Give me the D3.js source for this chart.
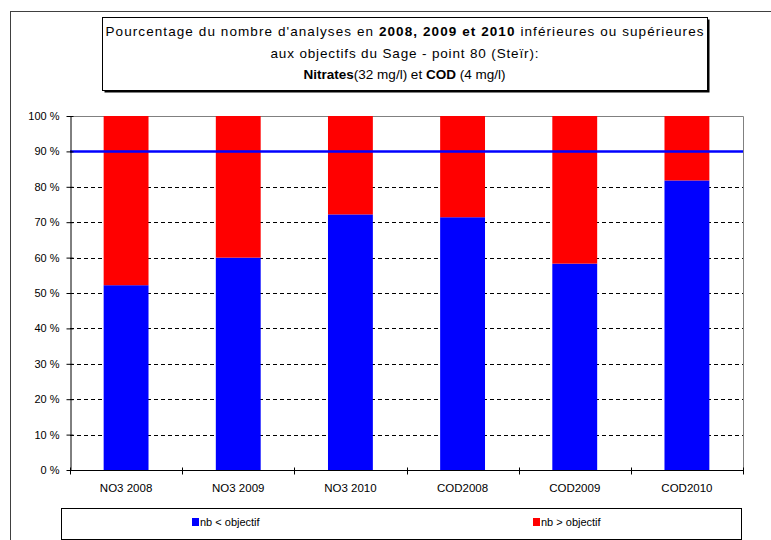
<!DOCTYPE html>
<html>
<head>
<meta charset="utf-8">
<script src="https://cdn.jsdelivr.net/npm/d3@7"></script>
<style>
  html, body { margin: 0; padding: 0; background: #fff; }
  svg { display: block; font-family: Arial, "Liberation Sans", sans-serif; }
</style>
</head>
<body>
<svg id="chart" width="771" height="540"></svg>
<script>
// Categories and shares (%) of analyses below / above the SAGE objective
const categories = ["NO3 2008", "NO3 2009", "NO3 2010", "COD2008", "COD2009", "COD2010"];
const belowObjective = [52.2, 60.0, 72.2, 71.4, 58.3, 81.8];
const aboveObjective = [47.8, 40.0, 27.8, 28.6, 41.7, 18.2];
const seriesNames = ["nb < objectif", "nb > objectif"];
const seriesColors = ["#0000ff", "#ff0000"];
const yTicks = [0, 10, 20, 30, 40, 50, 60, 70, 80, 90, 100];
const targetLevel = 90;

const svg = d3.select("#chart");

// outer chart frame
svg.append("rect")
  .attr("x", 10.5).attr("y", 11.5)
  .attr("width", 800).attr("height", 600)
  .attr("fill", "none").attr("stroke", "#404040").attr("stroke-width", 1);

// plot area
const plot = { left: 70, right: 743, top: 116, bottom: 470 };

const x = d3.scaleBand()
  .domain(categories)
  .range([plot.left, plot.right])
  .paddingInner(0.6)
  .paddingOuter(0.3);

const y = d3.scaleLinear().domain([0, 100]).range([plot.bottom, plot.top]);

// plot border (top and right)
svg.append("path")
  .attr("d", `M${plot.left},${plot.top + 0.5}H${plot.right + 0.5}V${plot.bottom}`)
  .attr("fill", "none").attr("stroke", "#808080").attr("stroke-width", 1);

// dashed gridlines
svg.append("g")
  .selectAll("line")
  .data(yTicks.filter(t => t > 0 && t < 100 && t !== targetLevel))
  .join("line")
  .attr("x1", plot.left).attr("x2", plot.right)
  .attr("y1", d => Math.round(y(d)) + 0.5).attr("y2", d => Math.round(y(d)) + 0.5)
  .attr("stroke", "#000").attr("stroke-width", 1)
  .attr("stroke-dasharray", "4,3");

// stacked bars
const rows = categories.map((c, i) => ({ cat: c, below: belowObjective[i], above: aboveObjective[i] }));
const stack = d3.stack().keys(["below", "above"])(rows);

svg.append("g")
  .selectAll("g")
  .data(stack)
  .join("g")
  .attr("fill", (d, i) => seriesColors[i])
  .selectAll("rect")
  .data(d => d)
  .join("rect")
  .attr("x", d => x(d.data.cat))
  .attr("width", x.bandwidth())
  .attr("y", d => y(d[1]))
  .attr("height", d => y(d[0]) - y(d[1]));

// target line at 90 %
svg.append("line")
  .attr("x1", plot.left).attr("x2", plot.right)
  .attr("y1", y(targetLevel)).attr("y2", y(targetLevel))
  .attr("stroke", "#0000ff").attr("stroke-width", 2.5);

// y axis
const yAxis = d3.axisLeft(y)
  .tickValues(yTicks)
  .tickFormat(d => d + " %")
  .tickSizeInner(4)
  .tickSizeOuter(0)
  .tickPadding(7);

const gy = svg.append("g")
  .attr("transform", `translate(${plot.left + 0.5},0)`)
  .call(yAxis);
gy.select(".domain").attr("stroke", "#000");
gy.selectAll(".tick line").attr("x1", -4).attr("x2", 3).attr("stroke", "#000");
gy.selectAll(".tick text")
  .attr("font-size", 11).attr("font-family", "Arial, 'Liberation Sans', sans-serif")
  .attr("fill", "#000");

// x axis with ticks at category boundaries
const gx = svg.append("g")
  .attr("transform", `translate(0,${plot.bottom + 0.5})`);
gx.append("line")
  .attr("x1", plot.left).attr("x2", plot.right + 1)
  .attr("stroke", "#000");
const step = (plot.right - plot.left) / categories.length;
gx.selectAll(".btick")
  .data(d3.range(categories.length + 1))
  .join("line")
  .attr("class", "btick")
  .attr("x1", i => Math.round(plot.left + i * step) + 0.5)
  .attr("x2", i => Math.round(plot.left + i * step) + 0.5)
  .attr("y1", -3).attr("y2", 4)
  .attr("stroke", "#000");
gx.selectAll(".lbl")
  .data(categories)
  .join("text")
  .attr("class", "lbl")
  .attr("x", d => x(d) + x.bandwidth() / 2)
  .attr("y", 21)
  .attr("text-anchor", "middle")
  .attr("font-size", 11.5)
  .attr("fill", "#000")
  .text(d => d);

// title box with shadow
const tb = { x: 102, y: 17, w: 605, h: 73 };
svg.append("rect")
  .attr("x", tb.x + 2.5).attr("y", tb.y + 2.5)
  .attr("width", tb.w).attr("height", tb.h)
  .attr("fill", "#000");
svg.append("rect")
  .attr("x", tb.x + 0.5).attr("y", tb.y + 0.5)
  .attr("width", tb.w).attr("height", tb.h)
  .attr("fill", "#fff").attr("stroke", "#000");

const titleLines = [
  [["Pourcentage du nombre d'analyses en ", false], ["2008, 2009 et 2010", true], [" inférieures ou supérieures", false]],
  [["aux objectifs du Sage - point 80 (Steïr):", false]],
  [["Nitrates", true], ["(32 mg/l) et ", false], ["COD", true], [" (4 mg/l)", false]]
];
const titleWidths = [598, 268, null];
const title = svg.append("g");
titleLines.forEach((parts, i) => {
  const t = title.append("text")
    .attr("x", tb.x + tb.w / 2)
    .attr("y", 36 + i * 21.5)
    .attr("text-anchor", "middle")
    .attr("font-size", 13.5)
    .attr("fill", "#000");
  if (titleWidths[i]) {
    t.attr("textLength", titleWidths[i]).attr("lengthAdjust", "spacing");
  }
  parts.forEach(([s, b]) => {
    t.append("tspan").attr("font-weight", b ? "bold" : "normal").text(s);
  });
});

// legend
const lg = { x: 61, y: 508, w: 680, h: 31 };
svg.append("rect")
  .attr("x", lg.x + 0.5).attr("y", lg.y + 0.5)
  .attr("width", lg.w).attr("height", lg.h)
  .attr("fill", "#fff").attr("stroke", "#000");
const legendX = [192, 533];
const legend = svg.append("g")
  .selectAll("g")
  .data(seriesNames)
  .join("g")
  .attr("transform", (d, i) => `translate(${legendX[i]},518)`);
legend.append("rect")
  .attr("width", 7).attr("height", 8)
  .attr("fill", (d, i) => seriesColors[i]);
legend.append("text")
  .attr("x", 8).attr("y", 8)
  .attr("font-size", 11)
  .attr("fill", "#000")
  .text(d => d);
</script>
</body>
</html>
